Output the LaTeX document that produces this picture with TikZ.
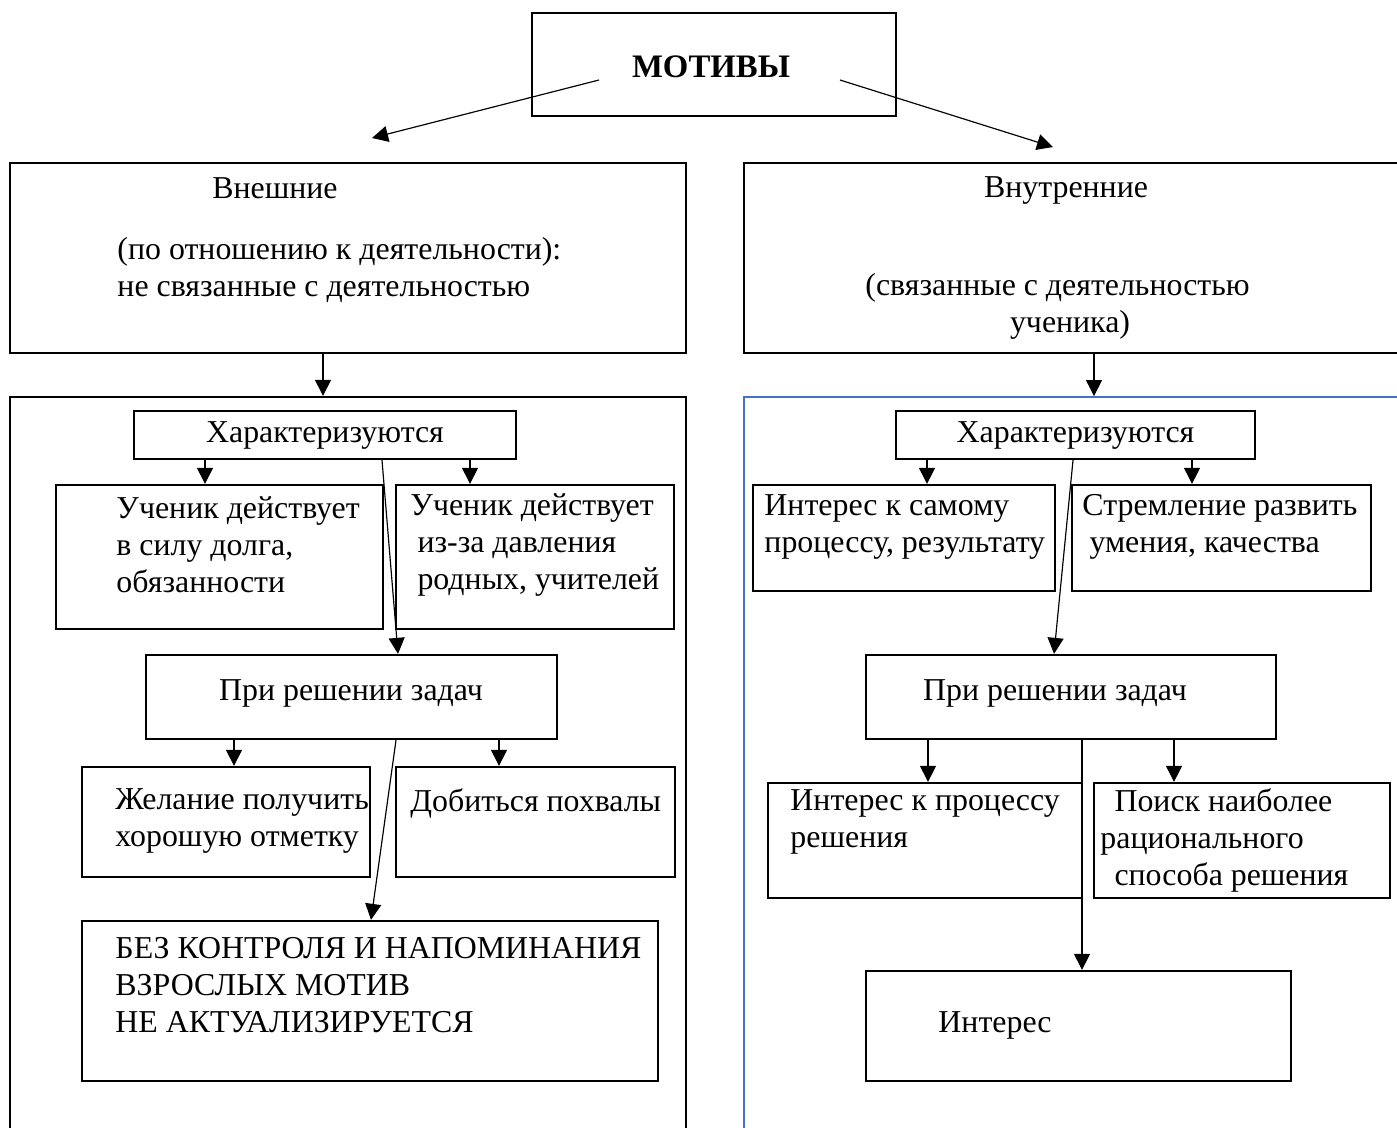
\documentclass[tikz,border=0pt]{standalone}
\usepackage{fontspec}
\setmainfont{Liberation Serif}
\usetikzlibrary{arrows.meta,fit}
\definecolor{frameblue}{RGB}{68,114,196}

\begin{document}
\begin{tikzpicture}[x=0.015cm,y=-0.015cm,
  box/.style={draw,line width=1pt,inner sep=0pt},
  txt/.style={inner sep=0pt,align=left,font=\fontsize{13.6pt}{15.8pt}\selectfont},
  arr/.style={-{Triangle[length=2.4mm,width=2.4mm]},line width=0.5pt}]
\useasboundingbox (0,0) rectangle (1397,1127);

% top
\node (motive) [box,fit={(532,13) (896,116)}] {};
\node (motivetxt) at (711,67) [txt,font=\fontsize{14pt}{15.8pt}\selectfont\bfseries] {МОТИВЫ};
\coordinate (mleft) at (599,80);
\coordinate (mright) at (840,80);
\coordinate (extin) at (372,138);
\coordinate (intin) at (1053,147);
\draw[arr] (mleft) -- (extin);
\draw[arr] (mright) -- (intin);

% outer kinds
\node (ext) [box,fit={(10,163) (686,353)}] {};
\node (extname) at (275,188) [txt] {Внешние};
\node (extdesc) at (117,270) [txt,anchor=west] {(по отношению к деятельности):\\не связанные с деятельностью};
\node (int) [box,fit={(744,163) (1402,353)}] {};
\node (intname) at (1066,190) [txt] {Внутренние};
\node (intdesc1) at (865,288) [txt,anchor=west] {(связанные с деятельностью};
\node (intdesc2) at (1070,325) [txt] {ученика)};

\node (extbody) [box,fit={(10,397) (686,1140)}] {};
\node (intbody) [box,draw=frameblue,line width=0.8pt,fit={(744,397) (1402,1140)}] {};
\draw[arr] (ext.south -| 323,0) -- (extbody.north -| 323,0);
\draw[arr] (int.south -| 1094,0) -- (intbody.north -| 1094,0);

% left side
\node (charL) [box,fit={(134,411) (516,459)}] {};
\node (charLtxt) at (charL.center) [txt] {Характеризуются};
\node (dutyL) [box,fit={(56,485) (383,629)}] {};
\node (dutyLtxt) at (116,545) [txt,anchor=west] {Ученик действует\\в силу долга,\\обязанности};
\node (pressL) [box,fit={(396,485) (674,629)}] {};
\node (pressLtxt) at (410,545) [txt,anchor=west] {Ученик действует\\\hspace*{3pt}из-за давления\\\hspace*{3pt}родных, учителей};
\draw[arr] (charL.south -| 205,0) -- (dutyL.north -| 205,0);
\draw[arr] (charL.south -| 470,0) -- (pressL.north -| 470,0);

\node (taskL) [box,fit={(146,655) (557,739)}] {};
\node (taskLtxt) at (351,693) [txt] {При решении задач};
\draw[arr] (charL.south -| 382,0) -- (taskL.north -| 398,0);

\node (gradeL) [box,fit={(82,767) (370,877)}] {};
\node (gradeLtxt) at (115,821) [txt,anchor=west] {Желание получить\\хорошую отметку};
\node (praiseL) [box,fit={(396,767) (675,877)}] {};
\node (praiseLtxt) at (410,803) [txt,anchor=west] {Добиться похвалы};
\draw[arr] (taskL.south -| 234,0) -- (gradeL.north -| 234,0);
\draw[arr] (taskL.south -| 499,0) -- (praiseL.north -| 499,0);

\node (ctrlL) [box,fit={(82,921) (658,1081)}] {};
\node (ctrlLtxt) at (115,985) [txt,anchor=west] {БЕЗ КОНТРОЛЯ И НАПОМИНАНИЯ\\ВЗРОСЛЫХ МОТИВ\\НЕ АКТУАЛИЗИРУЕТСЯ};
\draw[arr] (taskL.south -| 396,0) -- (ctrlL.north -| 371,0);

% right side
\node (charR) [box,fit={(896,411) (1255,459)}] {};
\node (charRtxt) at (charR.center) [txt] {Характеризуются};
\node (curioR) [box,fit={(753,485) (1055,591)}] {};
\node (curioRtxt) at (764,527) [txt,anchor=west] {Интерес к самому\\процессу, результату};
\node (striveR) [box,fit={(1072,485) (1371,591)}] {};
\node (striveRtxt) at (1082,527) [txt,anchor=west] {Стремление развить\\\hspace*{3pt}умения, качества};
\draw[arr] (charR.south -| 927,0) -- (curioR.north -| 927,0);
\draw[arr] (charR.south -| 1192,0) -- (striveR.north -| 1192,0);

\node (taskR) [box,fit={(866,655) (1276,739)}] {};
\node (taskRtxt) at (1055,693) [txt] {При решении задач};
\draw[arr] (charR.south -| 1073,0) -- (taskR.north -| 1054,0);

\node (procR) [box,fit={(768,783) (1082,898)}] {};
\node (procRtxt) at (790,822) [txt,anchor=west] {Интерес к процессу\\решения};
\node (searchR) [box,fit={(1094,783) (1390,898)}] {};
\node (searchRtxt) at (1100,840) [txt,anchor=west] {\hspace*{6pt}Поиск наиболее\\рационального\\\hspace*{6pt}способа решения};
\draw[arr] (taskR.south -| 928,0) -- (procR.north -| 928,0);
\draw[arr] (taskR.south -| 1174,0) -- (searchR.north -| 1174,0);

\node (interestR) [box,fit={(866,971) (1291,1081)}] {};
\node (interestRtxt) at (938,1025) [txt,anchor=west] {Интерес};
\draw[arr] (taskR.south -| 1082,0) -- (interestR.north -| 1082,0);
\end{tikzpicture}
\end{document}
